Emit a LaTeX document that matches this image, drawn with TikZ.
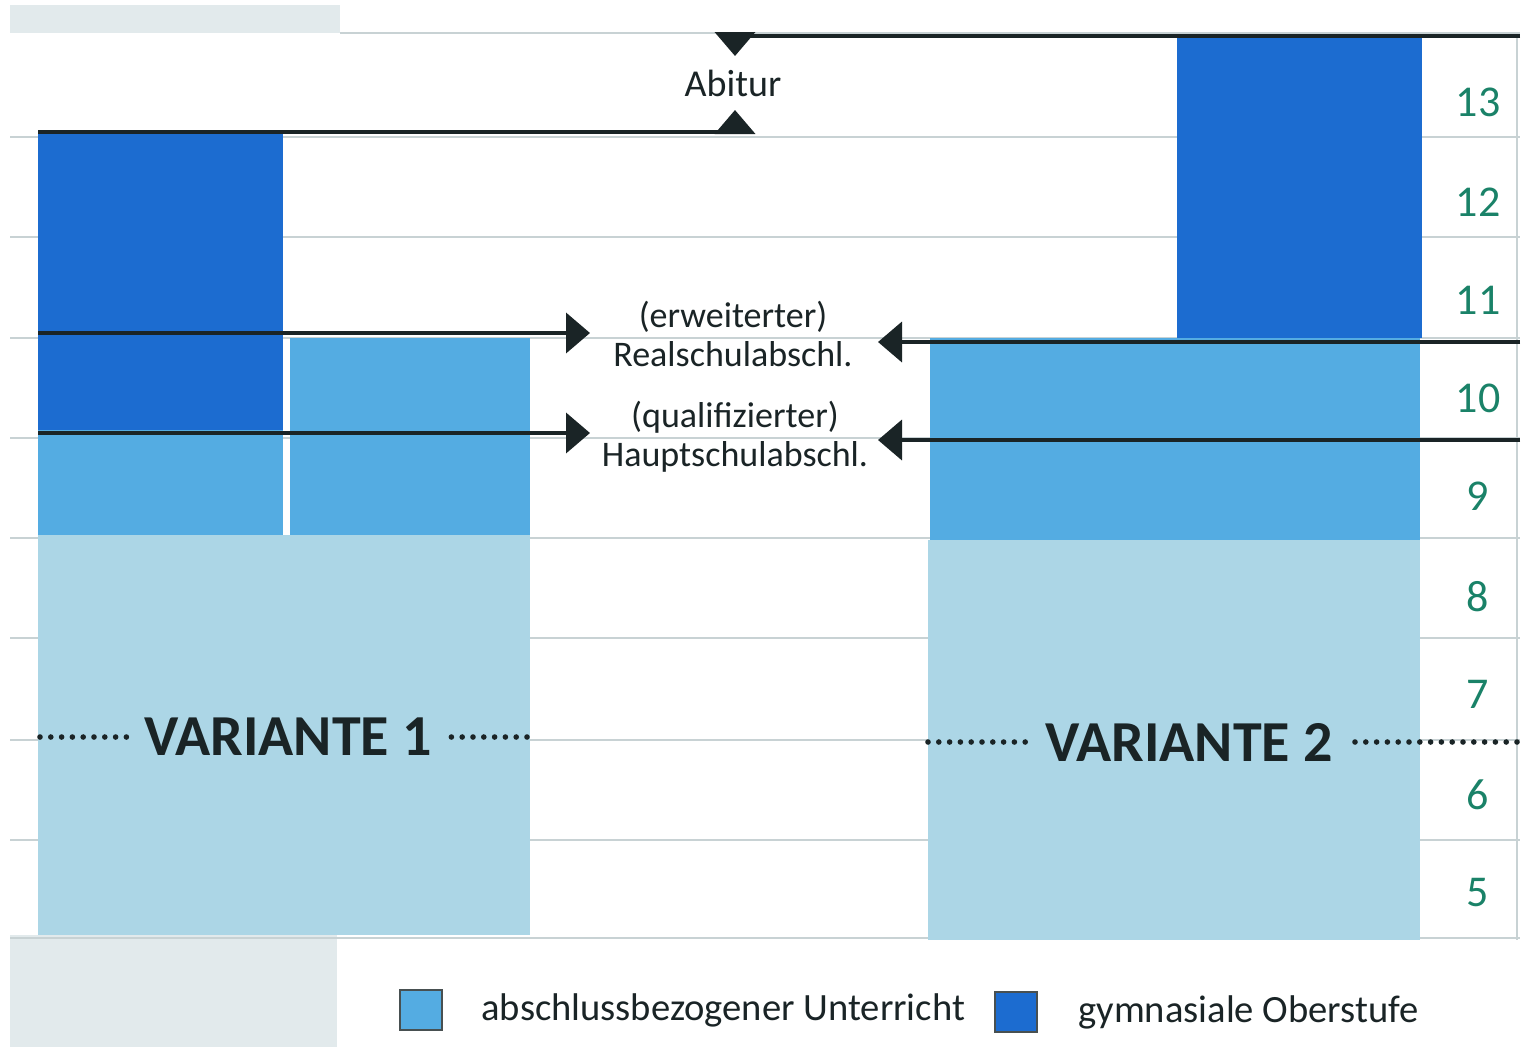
\documentclass[tikz,border=0pt]{standalone}
\usepackage{fontspec}
\setmainfont{Carlito}
\usetikzlibrary{arrows.meta,positioning}
\definecolor{gymblau}{RGB}{28,108,208}
\definecolor{abschlblau}{RGB}{84,172,226}
\definecolor{unterblau}{RGB}{172,214,230}
\definecolor{scangrau}{RGB}{226,234,236}
\definecolor{rasterlinie}{RGB}{200,210,212}
\definecolor{jahrgruen}{RGB}{26,130,104}
\definecolor{schrift}{RGB}{26,36,38}
\tikzset{
    >={Triangle[length=12pt,width=20pt]},
    pfeil/.style={draw=schrift, line width=2pt, ->},
    raster/.style={draw=rasterlinie, line width=0.6pt},
    punktlinie/.style={
        draw=schrift,
        line width=2.8pt,
        line cap=round,
        dash pattern=on 0pt off 5.4pt
    },
    abschlusstext/.style={
        text=schrift,
        inner sep=0pt,
        align=center,
        font=\fontsize{18}{19.5}\selectfont
    },
    jahr/.style={text=jahrgruen, inner sep=0pt, font=\fontsize{22}{22}\selectfont},
    variante/.style={text=schrift, inner sep=0pt, font=\fontsize{29}{29}\selectfont\bfseries},
    legbox/.style={
        draw=schrift!80,
        line width=1pt,
        minimum width=21pt,
        minimum height=20pt,
        inner sep=0pt
    },
    legtext/.style={text=schrift, inner sep=0pt, font=\fontsize{19.3}{19.3}\selectfont}
}

\begin{document}
\begin{tikzpicture}[x=0.5pt, y=-0.5pt]
    \useasboundingbox (0,0) rectangle (1522,1051);
    \fill[white] (0,0) rectangle (1522,1051);
    % Scanrand
    \fill[scangrau] (10,5) rectangle (340,33);
    \fill[scangrau] (10,935) rectangle (337,1047);

    % Jahrgangslinien
    \foreach \y in {137,237,338,438,538,638,740,840,938}
        \draw[raster] (10,\y) -- (1520,\y);
    \draw[raster] (340,33) -- (1520,33);
    \draw[raster] (1517,33) -- (1517,940);

    % Variante 1
    \fill[gymblau] (38,131) rectangle (283,430);
    \fill[abschlblau] (38,430) rectangle (283,535);
    \fill[abschlblau] (290,338) rectangle (530,535);
    \fill[unterblau] (38,535) rectangle (530,935);
    % Variante 2
    \fill[gymblau] (1177,38) rectangle (1422,338);
    \fill[abschlblau] (930,338) rectangle (1420,540);
    \fill[unterblau] (928,540) rectangle (1420,940);

    \foreach \j/\y in {13/102,12/202,11/300,10/398,9/496,8/597,7/694,6/795,5/893}
        \node[jahr] (j\j) at (1478,\y) {\j};

    % Abschluesse
    \node[abschlusstext, font=\fontsize{19}{19}\selectfont] (abitur) at (733,83) {Abitur};
    \node[abschlusstext] (real) at (733,334) {(erweiterter)\\Realschulabschl.};
    \node[abschlusstext] (haupt) at (735,437) {(qualifizierter)\\Hauptschulabschl.};

    \coordinate (abioben) at (735,56);
    \coordinate (abiunten) at (735,110);
    \coordinate (reo) at (1520,36);
    \coordinate (lio) at (38,132);
    \coordinate (lireal) at (38,333);
    \coordinate (lihaupt) at (38,433);
    \coordinate (rereal) at (1520,342);
    \coordinate (rehaupt) at (1520,440);
    \coordinate (tiplr) at (590,333);
    \coordinate (tiplh) at (590,433);
    \coordinate (tiprr) at (878,342);
    \coordinate (tiprh) at (878,440);

    \draw[pfeil] (reo) -| (abioben);
    \draw[pfeil] (lio) -| (abiunten);
    \draw[pfeil] (lireal) -- (tiplr);
    \draw[pfeil] (lihaupt) -- (tiplh);
    \draw[pfeil] (rereal) -- (tiprr);
    \draw[pfeil] (rehaupt) -- (tiprh);

    % Varianten
    \node[variante] (v1) at (288,737) {VARIANTE 1};
    \node[variante] (v2) at (1189,742) {VARIANTE 2};
    \coordinate (v1l) at (40,737);
    \coordinate (v1r) at (527,737);
    \coordinate (v2l) at (928,742);
    \coordinate (v2r) at (1517,742);
    \draw[punktlinie] (v1l) -- ([xshift=-8pt]v1.west);
    \draw[punktlinie] (v1r) -- ([xshift=8pt]v1.east);
    \draw[punktlinie] (v2l) -- ([xshift=-8pt]v2.west);
    \draw[punktlinie] (v2r) -- ([xshift=6pt]v2.east);

    % Legende
    \node[legbox, fill=abschlblau] (lg1) at (421,1010) {};
    \node[legtext, right=19pt of lg1] (lt1) {abschlussbezogener Unterricht};
    \node[legbox, fill=gymblau] (lg2) at (1016,1012) {};
    \node[legtext, right=20pt of lg2] (lt2) {gymnasiale Oberstufe};
\end{tikzpicture}
\end{document}
